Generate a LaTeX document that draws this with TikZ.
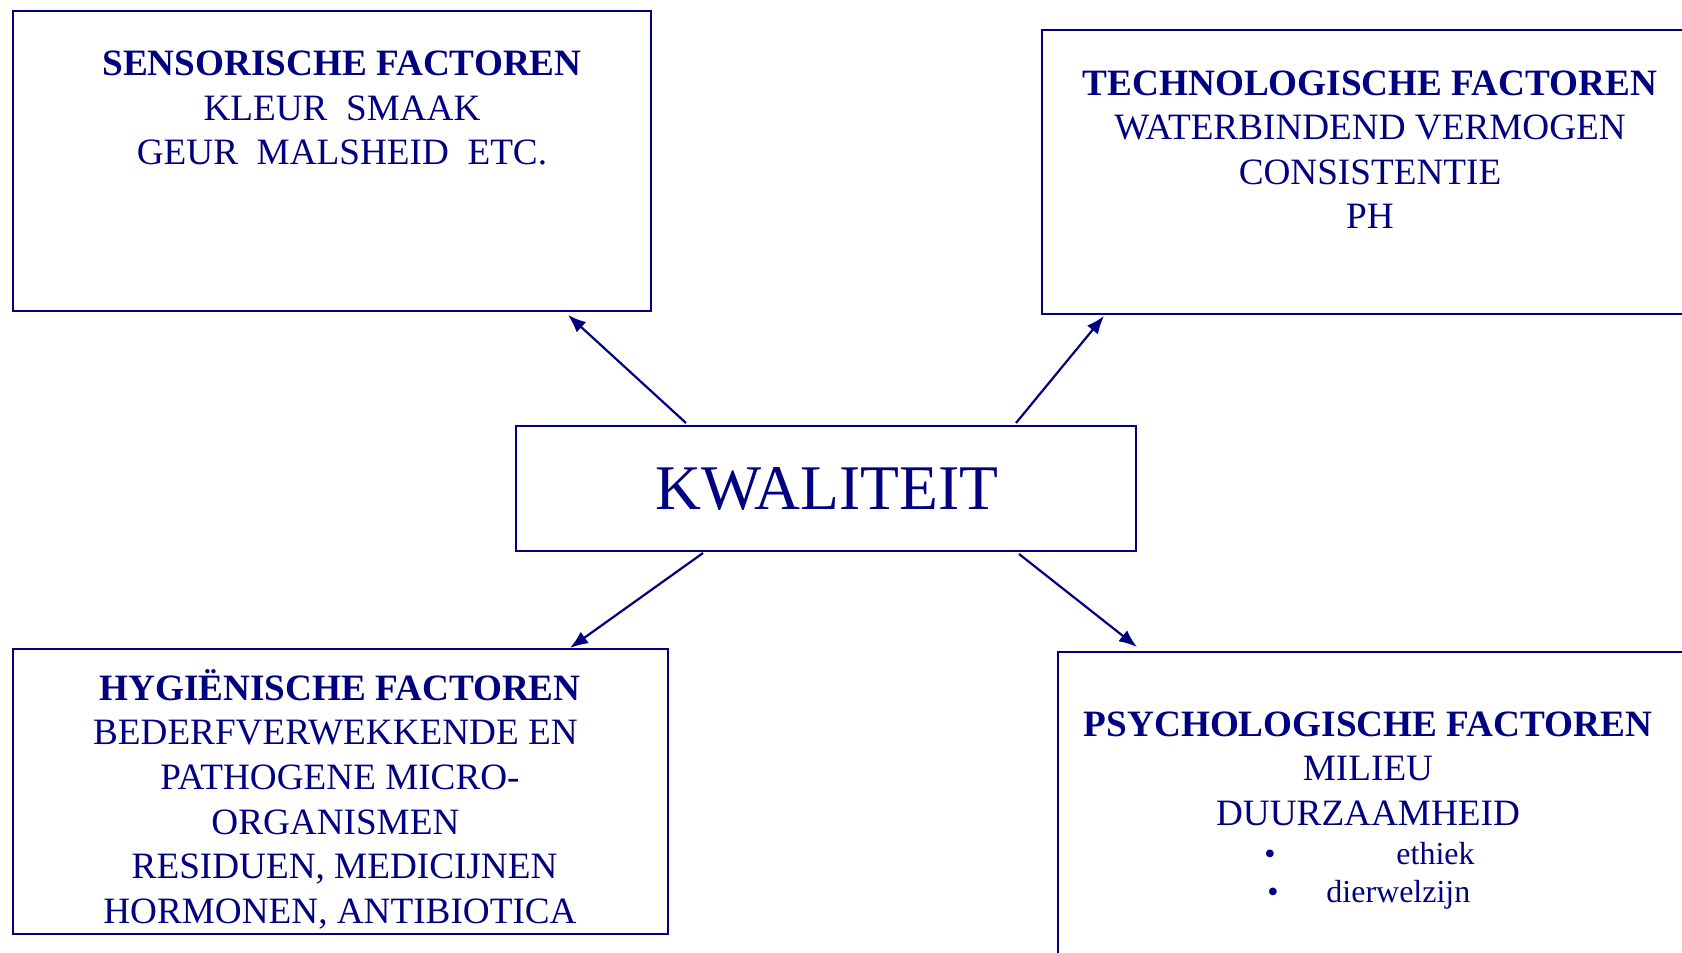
\documentclass[tikz,border=0pt]{standalone}
\usepackage{fontspec}
\setmainfont{Liberation Serif}
\usetikzlibrary{arrows.meta,calc}
\definecolor{navy}{RGB}{0,0,128}

\tikzset{
    factorbox/.style={draw=navy, line width=1.2pt, anchor=north west, inner sep=0pt, outer sep=0pt},
    tekst/.style={text=navy, align=center, inner sep=0pt, font=\fontsize{18.6}{22.3}\selectfont},
    klein/.style={text=navy, inner sep=0pt, font=\fontsize{16}{19}\selectfont},
    pijl/.style={draw=navy, line width=1.1pt, -{Latex[length=9pt,width=7pt]}}
}

\begin{document}
\begin{tikzpicture}[x=0.5pt,y=-0.5pt]
                \useasboundingbox (0,0) rectangle (1682,953);
                \clip (0,0) rectangle (1682,953);

                \node[factorbox, minimum width=319pt, minimum height=150pt] (sens) at (13,11) {};
                \node[factorbox, minimum width=350pt, minimum height=142pt] (tech) at (1042,30) {};
                \node[factorbox, minimum width=310pt, minimum height=62.5pt] (kwal) at (516,426) {};
                \node[factorbox, minimum width=327.5pt, minimum height=142.5pt] (hyg) at (13,649) {};
                \node[factorbox, minimum width=350pt, minimum height=180pt] (psych) at (1058,652) {};

                \node[tekst, anchor=north] (sens-tekst) at (342,50.5) {\textbf{SENSORISCHE FACTOREN}\\KLEUR\ \ SMAAK\\GEUR\ \ MALSHEID\ \ ETC.};
                \node[tekst, anchor=north] (tech-tekst) at (1370,70) {\textbf{TECHNOLOGISCHE FACTOREN}\\WATERBINDEND VERMOGEN\\CONSISTENTIE\\PH};
                \node[tekst, anchor=base, font=\fontsize{31.8}{36}\selectfont] (kwal-tekst) at (827,509) {KWALITEIT};
                \node[tekst, anchor=north] (hyg-tekst) at (340,669) {\textbf{HYGIËNISCHE FACTOREN}\\BEDERFVERWEKKENDE EN\kern4.6pt\\PATHOGENE MICRO-\\ORGANISMEN\kern4.6pt\\\kern4.6pt RESIDUEN, MEDICIJNEN\\HORMONEN, ANTIBIOTICA};
                \node[tekst, anchor=north] (psych-tekst) at (1368,711) {\textbf{PSYCHOLOGISCHE FACTOREN}\\MILIEU\\DUURZAAMHEID};

                \node[klein, anchor=base] (bol1) at (1270,864) {\textbullet};
                \node[klein, anchor=base west] (ethiek) at (1396,864) {ethiek};
                \node[klein, anchor=base] (bol2) at (1273,902) {\textbullet};
                \node[klein, anchor=base west] (dierwelzijn) at (1326,902) {dierwelzijn};

                \draw[pijl] ($(kwal.north west)+(170,-3)$) -- ($(sens.south west)+(555,4)$);
                \draw[pijl] ($(kwal.north west)+(500,-3)$) -- ($(tech.south west)+(62,2)$);
                \draw[pijl] ($(kwal.south west)+(187,2)$) -- ($(hyg.north west)+(557,-1)$);
                \draw[pijl] ($(kwal.south west)+(503,3)$) -- ($(psych.north west)+(79,-5)$);
            \end{tikzpicture}
\end{document}
